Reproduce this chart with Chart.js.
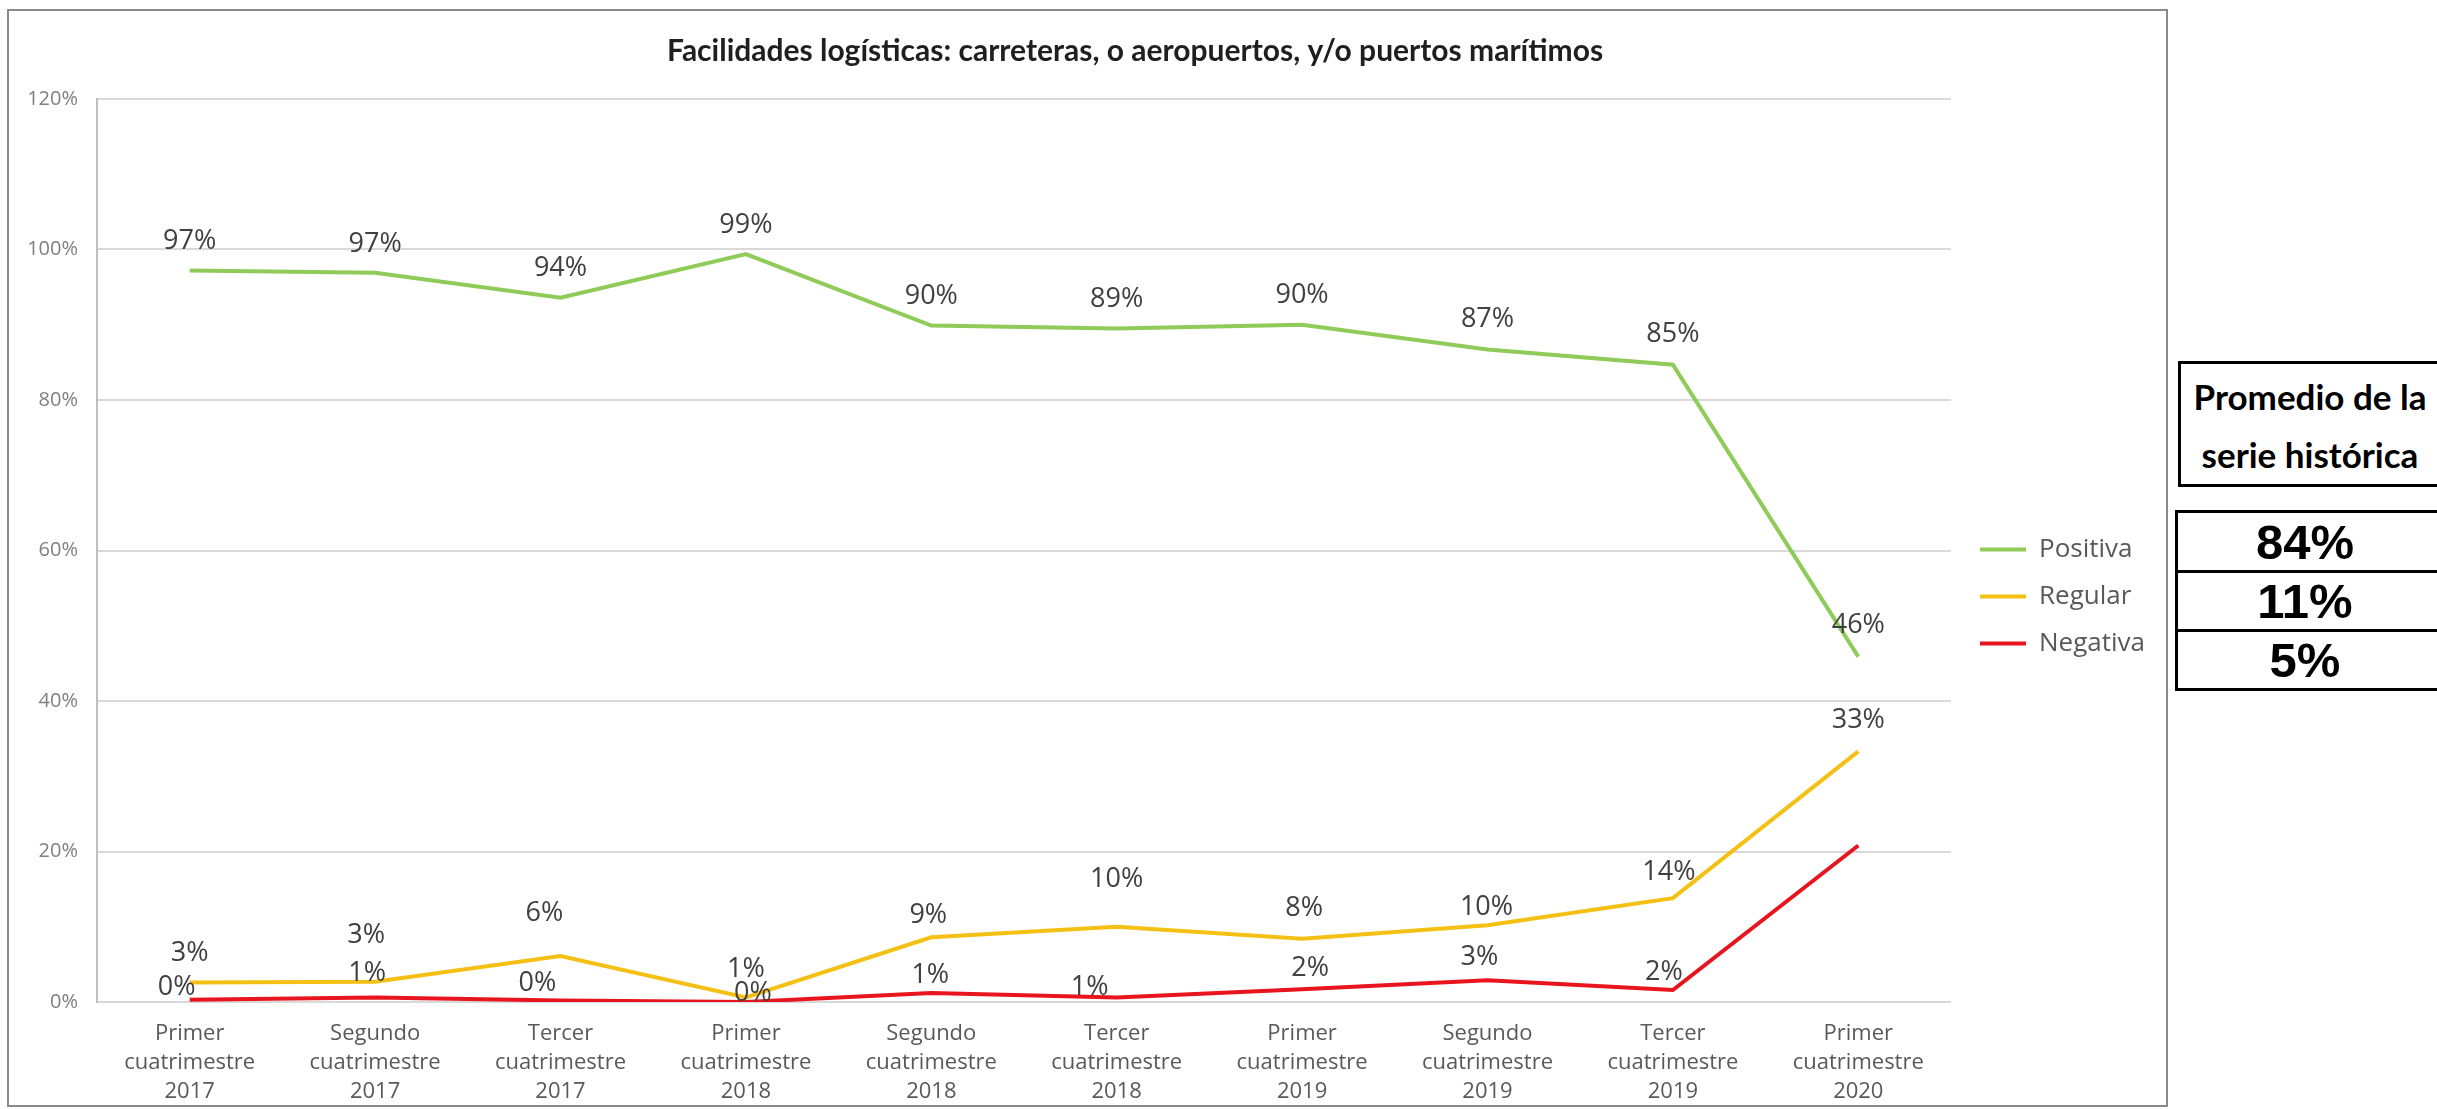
<!DOCTYPE html>
<html>
<head>
<meta charset="utf-8">
<script src="https://cdn.jsdelivr.net/npm/chart.js@4/dist/chart.umd.min.js"></script>
<style>
  html, body { margin: 0; padding: 0; background: #ffffff; overflow: hidden; }
  #page { position: relative; width: 2437px; height: 1109px; overflow: hidden; background: #fff; }
  #frame { position: absolute; left: 7px; top: 9px; width: 2161px; height: 1098px; box-sizing: border-box; border: 2px solid #8a8a8a; }
  #canvasWrap { position: absolute; left: 0; top: 0; width: 2157px; height: 1094px; }
  .tbox { position: absolute; box-sizing: border-box; border: 3px solid #000; background: #fff; }
  #hdr { left: 2178px; top: 361px; width: 300px; height: 126px; font-family: Lato, "Open Sans", sans-serif; font-weight: 700; font-size: 35px; color: #000; text-align: center; line-height: 58px; padding-top: 3px; padding-right: 36px; }
  .vrow { position: absolute; left: 2175px; width: 300px; box-sizing: border-box; border: 3px solid #000; background: #fff; font-family: "Liberation Sans", Arial, sans-serif; font-weight: 700; font-size: 49px; color: #000; text-align: center; padding-right: 40px; }
</style>
</head>
<body>
<div id="page">
  <div id="frame"><div id="canvasWrap"><canvas id="c"></canvas></div></div>
  <div id="hdr" class="tbox">Promedio de la<br>serie histórica</div>
  <div class="vrow" style="top:510px;height:63px;line-height:58px;">84%</div>
  <div class="vrow" style="top:570px;height:62px;line-height:57px;">11%</div>
  <div class="vrow" style="top:629px;height:62px;line-height:57px;">5%</div>
</div>
<script>
// ---- data ----
const chartTitle = 'Facilidades logísticas: carreteras, o aeropuertos, y/o puertos marítimos';
const categories = [
  ['Primer', 'cuatrimestre', '2017'],
  ['Segundo', 'cuatrimestre', '2017'],
  ['Tercer', 'cuatrimestre', '2017'],
  ['Primer', 'cuatrimestre', '2018'],
  ['Segundo', 'cuatrimestre', '2018'],
  ['Tercer', 'cuatrimestre', '2018'],
  ['Primer', 'cuatrimestre', '2019'],
  ['Segundo', 'cuatrimestre', '2019'],
  ['Tercer', 'cuatrimestre', '2019'],
  ['Primer', 'cuatrimestre', '2020']
];
const seriesNames = ['Positiva', 'Regular', 'Negativa'];
const positiva = [97.2, 96.9, 93.6, 99.4, 89.9, 89.5, 90.0, 86.7, 84.7, 45.9];
const regular  = [2.6, 2.7, 6.1, 0.6, 8.6, 10.0, 8.4, 10.2, 13.8, 33.3];
const negativa = [0.3, 0.6, 0.2, 0.0, 1.2, 0.6, 1.7, 2.9, 1.6, 20.8];
const positivaLabels = ['97%', '97%', '94%', '99%', '90%', '89%', '90%', '87%', '85%', '46%'];
const regularLabels  = ['3%', '3%', '6%', '1%', '9%', '10%', '8%', '10%', '14%', '33%'];
const negativaLabels = ['0%', '1%', '0%', '0%', '1%', '1%', '2%', '3%', '2%', ''];
const yTicks = [0, 20, 40, 60, 80, 100, 120];

// ---- styles ----
const colors = ['#8FCB58', '#F5C014', '#E8141E'];
const labelSets = [positivaLabels, regularLabels, negativaLabels];
// label nudges (px, relative to each point: [dx, pixels above])
const positivaNudge = [[0,29],[0,29],[0,29],[0,29],[0,29],[0,29],[0,29],[0,30],[0,30],[0,31]];
const regularNudge  = [[0,29],[-9,46],[-16,43],[0,28],[-3,22],[0,47],[2,30],[-1,18],[-4,26],[0,31]];
const negativaNudge = [[-13,12],[-8,24],[-23,17],[7,9],[-1,18],[-27,10],[8,21],[-8,23],[-9,18],[0,0]];
const nudges = [positivaNudge, regularNudge, negativaNudge];

const dataLabelPlugin = {
  id: 'dataLabels',
  afterDatasetsDraw(chart) {
    const ctx = chart.ctx;
    ctx.save();
    ctx.font = '27px "Open Sans"';
    ctx.fillStyle = '#404040';
    ctx.textAlign = 'center';
    ctx.textBaseline = 'middle';
    chart.data.datasets.forEach((ds, di) => {
      const meta = chart.getDatasetMeta(di);
      meta.data.forEach((pt, i) => {
        const txt = labelSets[di][i];
        if (!txt) return;
        const n = nudges[di][i];
        ctx.fillText(txt, pt.x + n[0], pt.y - n[1]);
      });
    });
    ctx.restore();
  }
};

const shiftPlugin = {
  id: 'shiftBoxes',
  afterLayout(chart) {
    const t = chart.titleBlock;
    if (t) { t.left += 47; t.right += 47; }
    const l = chart.legend;
    if (l) { l.left += 8; l.right += 8; l.top += 40; l.bottom += 40; }
  }
};

new Chart(document.getElementById('c'), {
  type: 'line',
  data: {
    labels: categories,
    datasets: [
      { label: seriesNames[0], data: positiva },
      { label: seriesNames[1], data: regular },
      { label: seriesNames[2], data: negativa }
    ].map((d, i) => Object.assign(d, {
      borderColor: colors[i], backgroundColor: colors[i], borderWidth: 4,
      pointRadius: 0, pointHoverRadius: 0, pointStyle: 'line', tension: 0, fill: false
    }))
  },
  options: {
    responsive: true,
    maintainAspectRatio: false,
    animation: false,
    events: [],
    layout: { padding: { left: 20, right: 19, top: 0, bottom: 3 } },
    plugins: {
      title: {
        display: true, text: chartTitle, color: '#1f1f1f',
        font: { family: 'Lato', weight: 'bold', size: 30 },
        padding: { top: 22, bottom: 30 }
      },
      legend: {
        display: true, position: 'right', align: 'center',
        labels: {
          usePointStyle: true, pointStyle: 'line', pointStyleWidth: 46, boxHeight: 26,
          padding: 21, color: '#595959',
          font: { family: 'Open Sans', size: 26 }
        }
      },
      tooltip: { enabled: false }
    },
    scales: {
      x: {
        offset: true,
        grid: { display: false, drawTicks: false, offset: true },
        border: { display: false },
        ticks: { color: '#595959', font: { family: 'Open Sans', size: 22, lineHeight: 1.33 }, padding: 17, maxRotation: 0, autoSkip: false },
        afterFit(scale) { scale.height = 100; }
      },
      y: {
        min: 0, max: 120,
        afterBuildTicks(scale) { scale.ticks = yTicks.map(v => ({ value: v })); },
        grid: { color: '#d9d9d9', lineWidth: 2, drawTicks: false },
        border: { display: true, color: '#bfbfbf', width: 2 },
        ticks: { color: '#7f7f7f', font: { family: 'Open Sans', size: 20 }, padding: 19, callback: v => v + '%' },
        afterFit(scale) { scale.width = 68; }
      }
    }
  },
  plugins: [dataLabelPlugin, shiftPlugin]
});
</script>
</body>
</html>
